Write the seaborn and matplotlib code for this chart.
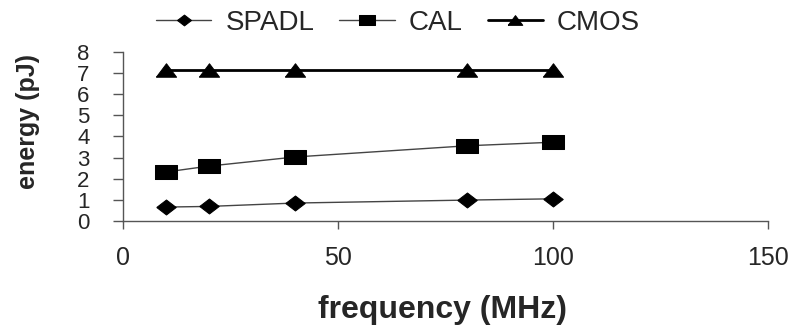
import matplotlib
matplotlib.use("Agg")
import matplotlib.pyplot as plt
import seaborn as sns
import numpy as np

# ---- data ----
frequency = [10, 20, 40, 80, 100]
spadl = [0.66, 0.69, 0.85, 0.99, 1.05]
cal = [2.32, 2.60, 3.03, 3.56, 3.73]
cmos = [7.15, 7.15, 7.15, 7.15, 7.15]
x_ticks = [0, 50, 100, 150]
y_ticks = [0, 1, 2, 3, 4, 5, 6, 7, 8]

sns.set_theme(style="white")
plt.rcParams['font.family'] = ['Liberation Sans', 'DejaVu Sans']

fig = plt.figure(figsize=(7.96, 3.29), dpi=100)
ax = fig.add_axes([123/796, 1-221/329, (768-123)/796, (221-52)/329])

# stretched marker shapes (source image is horizontally stretched)
diamond = [(-1.3, 0), (0, 1), (1.3, 0), (0, -1), (-1.3, 0)]
square = [(-1.45, -1), (1.45, -1), (1.45, 1), (-1.45, 1), (-1.45, -1)]
triangle = [(-1.5, -1), (1.5, -1), (0, 1), (-1.5, -1)]

sns.lineplot(x=frequency, y=spadl, ax=ax, color="#444444", lw=1.0,
             marker=diamond, markersize=14, markerfacecolor="black",
             markeredgecolor="black", label="SPADL")
sns.lineplot(x=frequency, y=cal, ax=ax, color="#444444", lw=1.0,
             marker=square, markersize=15.5, markerfacecolor="black",
             markeredgecolor="black", label="CAL")
sns.lineplot(x=frequency, y=cmos, ax=ax, color="black", lw=2.0,
             marker=triangle, markersize=14.5, markerfacecolor="black",
             markeredgecolor="black", label="CMOS")

ax.set_xlim(0, 150)
ax.set_ylim(0, 8)
ax.set_xticks(x_ticks)
ax.set_yticks(y_ticks)
ax.set_xticklabels([str(v) for v in x_ticks], fontsize=18)
ax.set_yticklabels([str(v) for v in y_ticks], fontsize=16)
ax.tick_params(axis='x', direction='out', length=6, width=1, color="#555555", pad=12, bottom=True)
ax.tick_params(axis='y', direction='out', length=7, width=1, color="#555555", pad=17, left=True)
for s in ['top', 'right']:
    ax.spines[s].set_visible(False)
for s in ['left', 'bottom']:
    ax.spines[s].set_color("#555555")
    ax.spines[s].set_linewidth(1.0)

ax.set_xlabel("frequency (MHz)", fontsize=23, fontweight="bold")
ax.xaxis.label.set_va('center')
ax.xaxis.set_label_coords((442-123)/645, (221-310)/169)
ax.set_ylabel("energy (pJ)", fontsize=18, fontweight="bold")
ax.yaxis.label.set_va('center')
ax.yaxis.set_label_coords((28-123)/645, (221-122)/169)

leg = ax.legend(loc='center', bbox_to_anchor=(398/796, 1-23/329), bbox_transform=fig.transFigure,
                ncol=3, frameon=False, fontsize=20, markerscale=0.72,
                handlelength=2.0, handletextpad=0.5, columnspacing=0.9)

fig.savefig("out.png", dpi=100)
